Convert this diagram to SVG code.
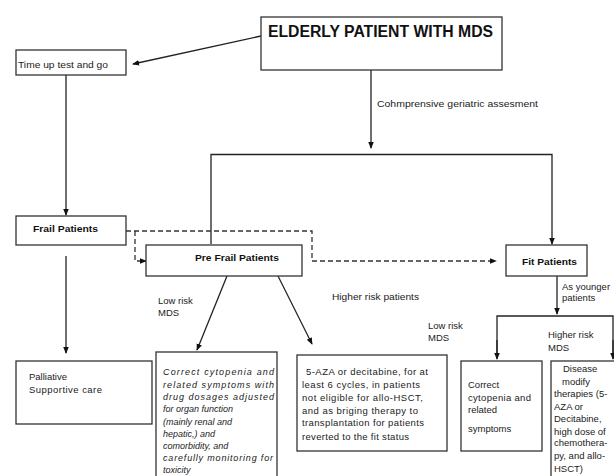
<svg xmlns="http://www.w3.org/2000/svg" width="614" height="476" viewBox="0 0 614 476">
<style>
  .box { fill: #fff; stroke: #333; stroke-width: 1.3; }
  .ln { fill: none; stroke: #222; stroke-width: 1.3; }
  .dash { fill: none; stroke: #333; stroke-width: 1.3; stroke-dasharray: 5 3; }
  text { font-family: "Liberation Sans", Arial, sans-serif; fill: #222; font-size: 9.5px; }
  .b { font-weight: bold; fill: #111; }
  .i { font-style: italic; font-size: 9px; }
</style>
<defs>
  <marker id="ah" viewBox="0 0 8 8" refX="7" refY="4" markerWidth="7" markerHeight="7" markerUnits="userSpaceOnUse" orient="auto">
    <path d="M0,0.8 L8,4 L0,7.2 z" fill="#111"/>
  </marker>
</defs>
<rect width="614" height="476" fill="#fff"/>

<g id="connectors">
  <line class="ln" x1="261" y1="36" x2="133" y2="64" marker-end="url(#ah)"/>
  <line class="ln" x1="371" y1="70" x2="371" y2="148" marker-end="url(#ah)"/>
  <polyline class="ln" points="211,244 211,154.5 552,154.5 552,244" marker-end="url(#ah)"/>
  <line class="ln" x1="66" y1="75" x2="66" y2="215" marker-end="url(#ah)"/>
  <line class="ln" x1="66" y1="256" x2="66" y2="353" marker-end="url(#ah)"/>
  <polyline class="dash" points="126,231 312,231 312,261 496,261" marker-end="url(#ah)"/>
  <polyline class="dash" points="135,231 135,261 146,261" marker-end="url(#ah)"/>
  <line class="ln" x1="227" y1="276" x2="197" y2="350" marker-end="url(#ah)"/>
  <line class="ln" x1="278" y1="276" x2="312" y2="344" marker-end="url(#ah)"/>
  <line class="ln" x1="557" y1="276" x2="557" y2="314" marker-end="url(#ah)"/>
  <polyline class="ln" points="497,358 497,316 613,316 613,358" />
  <line class="ln" x1="497" y1="340" x2="497" y2="359" marker-end="url(#ah)"/>
  <line class="ln" x1="613" y1="340" x2="613" y2="359" marker-end="url(#ah)"/>
  <text x="377" y="107" textLength="161" lengthAdjust="spacingAndGlyphs">Cohmprensive  geriatric assesment</text>
  <text x="158" y="304">Low risk</text>
  <text x="158" y="316">MDS</text>
  <text x="332" y="300" textLength="87" lengthAdjust="spacingAndGlyphs">Higher risk patients</text>
  <text x="562" y="290">As younger</text>
  <text x="562" y="301">patients</text>
  <text x="428" y="329">Low risk</text>
  <text x="428" y="341">MDS</text>
  <text x="548" y="338">Higher risk</text>
  <text x="548" y="351">MDS</text>
</g>

<g id="elderly">
  <rect class="box" x="261" y="17" width="241" height="53"/>
  <text class="b" x="268" y="37" textLength="225" lengthAdjust="spacingAndGlyphs" style="font-size:16px">ELDERLY  PATIENT  WITH MDS</text>
</g>

<g id="timeup">
  <rect class="box" x="16" y="50" width="110" height="25"/>
  <text x="18" y="68" textLength="90" lengthAdjust="spacingAndGlyphs">Time up test and go</text>
</g>

<g id="frail">
  <rect class="box" x="16" y="216" width="110" height="29"/>
  <text class="b" x="33" y="232" textLength="65" lengthAdjust="spacingAndGlyphs">Frail Patients</text>
</g>

<g id="prefrail">
  <rect class="box" x="146" y="245" width="156" height="31"/>
  <text class="b" x="195" y="261" textLength="84" lengthAdjust="spacingAndGlyphs">Pre Frail Patients</text>
</g>

<g id="fit">
  <rect class="box" x="506" y="245" width="81" height="31"/>
  <text class="b" x="522" y="265" textLength="55" lengthAdjust="spacingAndGlyphs">Fit Patients</text>
</g>

<g id="palliative">
  <rect class="box" x="16" y="361" width="136" height="63"/>
  <text x="29" y="380">Palliative</text>
  <text x="29" y="393" textLength="73" lengthAdjust="spacing">Supportive  care</text>
</g>

<g id="correct-lowrisk">
  <rect class="box" x="156" y="352" width="121" height="130"/>
  <text class="i" x="163" y="375" textLength="111" lengthAdjust="spacing">Correct cytopenia  and</text>
  <text class="i" x="163" y="387.5" textLength="111" lengthAdjust="spacing">related symptoms  with</text>
  <text class="i" x="163" y="400" textLength="111" lengthAdjust="spacing">drug dosages  adjusted</text>
  <text class="i" x="163" y="412">for organ function</text>
  <text class="i" x="163" y="424.5">(mainly  renal and</text>
  <text class="i" x="163" y="437">hepatic,) and</text>
  <text class="i" x="163" y="449">comorbidity,  and</text>
  <text class="i" x="163" y="461" textLength="110" lengthAdjust="spacing">carefully monitoring  for</text>
  <text class="i" x="163" y="473">toxicity</text>
</g>

<g id="aza">
  <rect class="box" x="297" y="355" width="150" height="96"/>
  <text x="306" y="375" textLength="122" lengthAdjust="spacing">5-AZA or decitabine,  for at</text>
  <text x="302" y="388" textLength="118" lengthAdjust="spacing">least 6 cycles, in patients</text>
  <text x="302" y="401" textLength="121" lengthAdjust="spacing">not eligible for allo-HSCT,</text>
  <text x="302" y="414" textLength="116" lengthAdjust="spacing">and as briging therapy to</text>
  <text x="302" y="426" textLength="122" lengthAdjust="spacing">transplantation  for patients</text>
  <text x="302" y="440" textLength="107" lengthAdjust="spacing">reverted to the fit status</text>
</g>

<g id="correct-fit">
  <rect class="box" x="461" y="361" width="81" height="90"/>
  <text x="468" y="388">Correct</text>
  <text x="468" y="401" textLength="63" lengthAdjust="spacing">cytopenia and</text>
  <text x="468" y="413">related</text>
  <text x="468" y="432">symptoms</text>
</g>

<g id="disease">
  <rect class="box" x="551" y="361" width="70" height="120"/>
  <text x="563" y="372">Disease</text>
  <text x="562" y="385">modify</text>
  <text x="554" y="397">therapies  (5-</text>
  <text x="554" y="410">AZA or</text>
  <text x="554" y="422">Decitabine,</text>
  <text x="554" y="435">high dose of</text>
  <text x="554" y="446">chemothera-</text>
  <text x="554" y="459">py, and allo-</text>
  <text x="554" y="472">HSCT)</text>
</g>
</svg>
